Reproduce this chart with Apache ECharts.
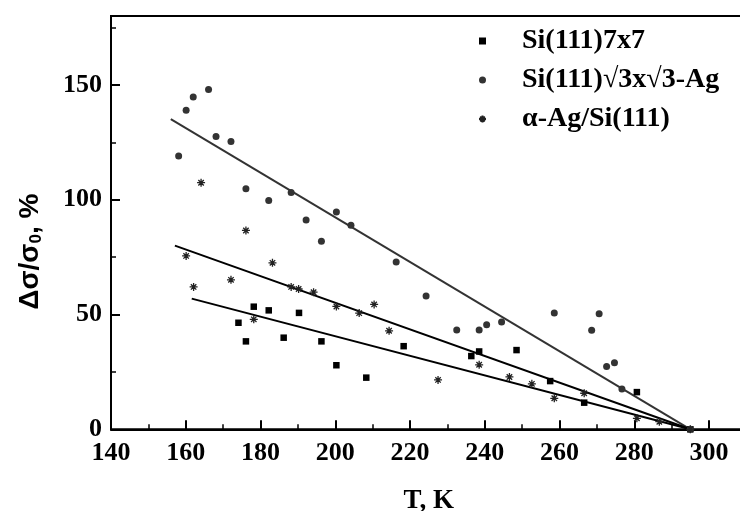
<!DOCTYPE html>
<html><head><meta charset="utf-8">
<script src="https://cdn.jsdelivr.net/npm/echarts@6/dist/echarts.min.js"></script>
<style>html,body{margin:0;padding:0;background:#fff}#c{width:740px;height:511px}</style>
</head><body><div id="c"></div>
<script>
// Si(111)7x7 (squares)
const sq7x7 = [[174.1,46.4],[176.1,38.3],[178.2,53.4],[182.2,51.8],[186.2,39.9],[190.3,50.7],[196.3,38.3],[200.3,27.9],[208.3,22.5],[218.3,36.2],[236.4,31.9],[238.5,33.9],[248.5,34.5],[257.5,21.0],[266.6,11.6],[280.7,16.2],[295,0]];
// Si(111)√3x√3-Ag (circles)
const sqrt3Ag = [[158.1,119.0],[160.1,139.0],[162.0,144.7],[166.1,148.0],[168.1,127.5],[172.1,125.3],[176.1,104.8],[182.2,99.7],[188.2,103.1],[192.2,91.1],[196.3,81.9],[200.3,94.6],[204.2,88.9],[216.3,72.9],[224.3,58.1],[232.5,43.2],[238.5,43.2],[240.5,45.5],[244.5,46.7],[258.6,50.6],[268.6,43.1],[270.6,50.3],[272.6,27.3],[274.7,29.0],[276.7,17.6],[295,0]];
// α-Ag/Si(111) (asterisks)
const alphaAg = [[160.1,75.5],[162.1,62.0],[164.1,107.4],[172.1,65.1],[176.1,86.6],[178.2,47.9],[183.2,72.5],[188.2,62.0],[190.2,61.1],[194.2,59.7],[200.3,53.5],[206.4,50.6],[210.4,54.4],[214.4,42.9],[227.5,21.5],[238.5,28.1],[246.6,22.8],[252.6,19.8],[258.6,13.5],[266.6,15.7],[280.7,4.8],[286.7,3.3],[295,0]];
// linear fits (endpoints)
const fit7x7 = [[161.6,56.9],[295,0]];
const fitSqrt3 = [[156.0,135.1],[295,0]];
const fitAlpha = [[157.1,80.0],[295,0]];
const names = ['Si(111)7x7','Si(111)\u221A3x\u221A3-Ag','\u03B1-Ag/Si(111)'];

const serif = 'Liberation Serif';
const asterisk = 'path://M5,0L5,10M0,5L10,5M1.6,1.6L8.4,8.4M1.6,8.4L8.4,1.6';
const chart = echarts.init(document.getElementById('c'), null, {renderer:'canvas'});
const lbl = {fontFamily:serif, fontWeight:'bold', fontSize:26, color:'#000'};
chart.setOption({
  animation:false,
  backgroundColor:'#fff',
  grid:{left:111, top:16, right:-6.4, bottom:81.7, containLabel:false, outerBoundsMode:'none',
        show:true, borderColor:'#000', borderWidth:2, backgroundColor:'transparent'},
  legend:{
    orient:'vertical', left:473, top:22, padding:5, itemWidth:7, itemHeight:7, itemGap:11,
    textStyle:{fontFamily:serif, fontWeight:'bold', fontSize:28, color:'#000', lineHeight:28, padding:[0,0,0,31]},
    data:names
  },
  xAxis:[
    {type:'value', min:140, max:310, interval:20,
     name:'T, K', nameLocation:'middle', nameGap:58,
     nameTextStyle:{fontFamily:serif, fontWeight:'bold', fontSize:27, color:'#000'},
     axisLine:{lineStyle:{color:'#000', width:2}},
     axisTick:{inside:true, length:9, lineStyle:{color:'#000', width:2}},
     axisLabel:Object.assign({margin:11, showMaxLabel:false}, lbl),
     splitLine:{show:false}},
    {type:'value', min:140, max:310, interval:10, position:'bottom',
     axisLine:{show:false}, axisLabel:{show:false}, splitLine:{show:false},
     axisTick:{inside:true, length:5, lineStyle:{color:'#000', width:1.5}}}
  ],
  yAxis:[
    {type:'value', min:0, max:180, interval:50,
     name:'{a|\u0394\u03C3/\u03C3}{b|0}{a|, %}', nameLocation:'middle', nameGap:66,
     nameTextStyle:{padding:[0,58,0,0], rich:{
       a:{fontFamily:'Liberation Sans', fontWeight:'bold', fontSize:28, color:'#000'},
       b:{fontFamily:'Liberation Sans', fontWeight:'bold', fontSize:17, color:'#000', verticalAlign:'bottom', padding:[12,0,0,0]}
     }},
     axisLine:{lineStyle:{color:'#000', width:2}},
     axisTick:{inside:true, length:9, lineStyle:{color:'#000', width:2}},
     axisLabel:Object.assign({margin:9, showMaxLabel:false}, lbl),
     splitLine:{show:false}},
    {type:'value', min:0, max:180, interval:25, position:'left',
     axisLine:{show:false}, axisLabel:{show:false}, splitLine:{show:false},
     axisTick:{inside:true, length:5, lineStyle:{color:'#000', width:1.5}}}
  ],
  series:[
    {type:'line', data:fit7x7, symbol:'none', lineStyle:{color:'#000', width:2}, silent:true, z:1},
    {type:'line', data:fitSqrt3, symbol:'none', lineStyle:{color:'#333', width:2}, silent:true, z:1},
    {type:'line', data:fitAlpha, symbol:'none', lineStyle:{color:'#000', width:2}, silent:true, z:1},
    {name:names[0], type:'scatter', data:sq7x7, symbol:'rect', symbolSize:6.5, itemStyle:{color:'#000', opacity:1}, z:3},
    {name:names[1], type:'scatter', data:sqrt3Ag, symbol:'circle', symbolSize:7, itemStyle:{color:'#333', opacity:1}, z:3},
    {name:names[2], type:'scatter', data:alphaAg, symbol:asterisk, symbolSize:8, itemStyle:{color:'rgba(0,0,0,0)', borderColor:'#222', borderWidth:1.3, opacity:1}, z:3}
  ]
});
</script></body></html>
